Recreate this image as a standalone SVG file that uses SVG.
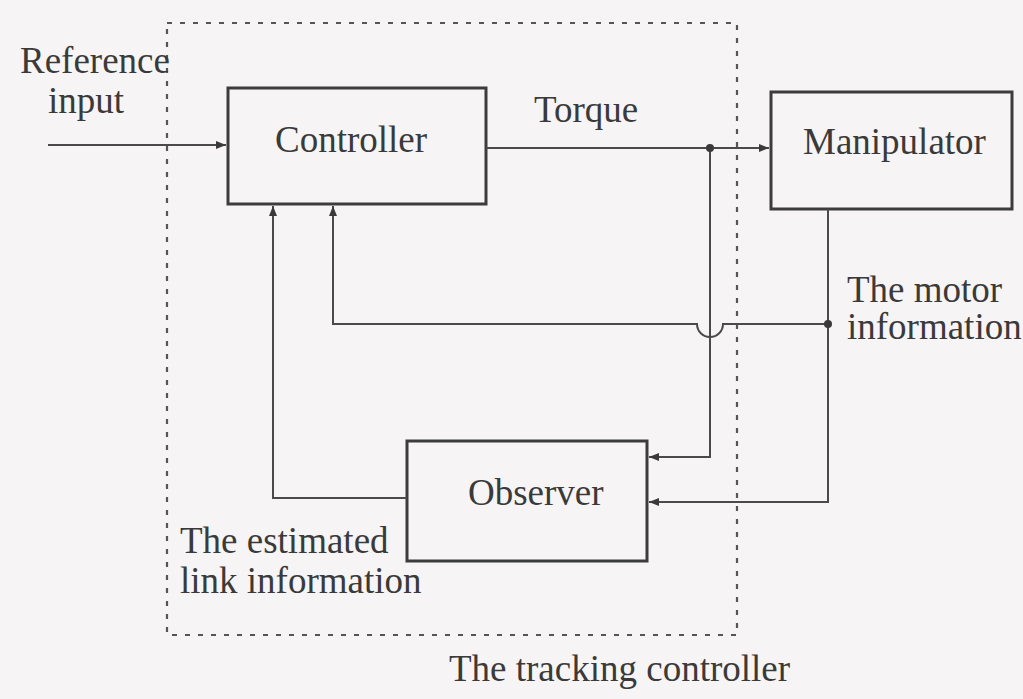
<svg xmlns="http://www.w3.org/2000/svg" width="1023" height="699" viewBox="0 0 1023 699">
<defs>
<style>
.bg{fill:#f6f4f4}
.box{fill:none;stroke:#3c3c3c;stroke-width:3}
.ln{fill:none;stroke:#4a4a4a;stroke-width:2}
.dash{fill:none;stroke:#555;stroke-width:2.2;stroke-dasharray:5 8}
.t{font-family:"Liberation Serif","Times New Roman",serif;font-size:37px;fill:#3a3a3a}
.dot{fill:#3a3a3a}
</style>
<marker id="arr" viewBox="0 0 10 8" refX="10" refY="4" markerWidth="10" markerHeight="8" markerUnits="userSpaceOnUse" orient="auto">
<path d="M0,0 L10,4 L0,8 z" fill="#3a3a3a"/>
</marker>
</defs>
<rect class="bg" x="0" y="0" width="1023" height="699"/>
<g id="tracking-controller">
<rect class="dash" x="167" y="23" width="570" height="612"/>
<text class="t" x="449" y="681">The tracking controller</text>
</g>
<g id="controller">
<rect class="box" x="228" y="88" width="258" height="116"/>
<text class="t" x="275" y="152">Controller</text>
</g>
<g id="manipulator">
<rect class="box" x="771" y="92" width="241" height="117"/>
<text class="t" x="803" y="154">Manipulator</text>
</g>
<g id="observer">
<rect class="box" x="407" y="441" width="240" height="120"/>
<text class="t" x="468" y="505">Observer</text>
</g>
<g id="connectors">
<path class="ln" d="M48,145 H226" marker-end="url(#arr)"/>
<path class="ln" d="M486,148 H769" marker-end="url(#arr)"/>
<path class="ln" d="M710,148 V457 H649" marker-end="url(#arr)"/>
<path class="ln" d="M828,209 V502 H649" marker-end="url(#arr)"/>
<path class="ln" d="M828,324 H723 A13,13 0 0 1 697,324 H333 V206" marker-end="url(#arr)"/>
<path class="ln" d="M407,498 H273 V206" marker-end="url(#arr)"/>
<circle class="dot" cx="710" cy="148" r="4"/>
<circle class="dot" cx="828" cy="324" r="4"/>
</g>
<g id="labels">
<text class="t" x="20" y="73">Reference</text>
<text class="t" x="48" y="113">input</text>
<text class="t" x="534" y="122">Torque</text>
<text class="t" x="847" y="302">The motor</text>
<text class="t" x="847" y="339">information</text>
<text class="t" x="180" y="553">The estimated</text>
<text class="t" x="180" y="593">link information</text>
</g>
</svg>
